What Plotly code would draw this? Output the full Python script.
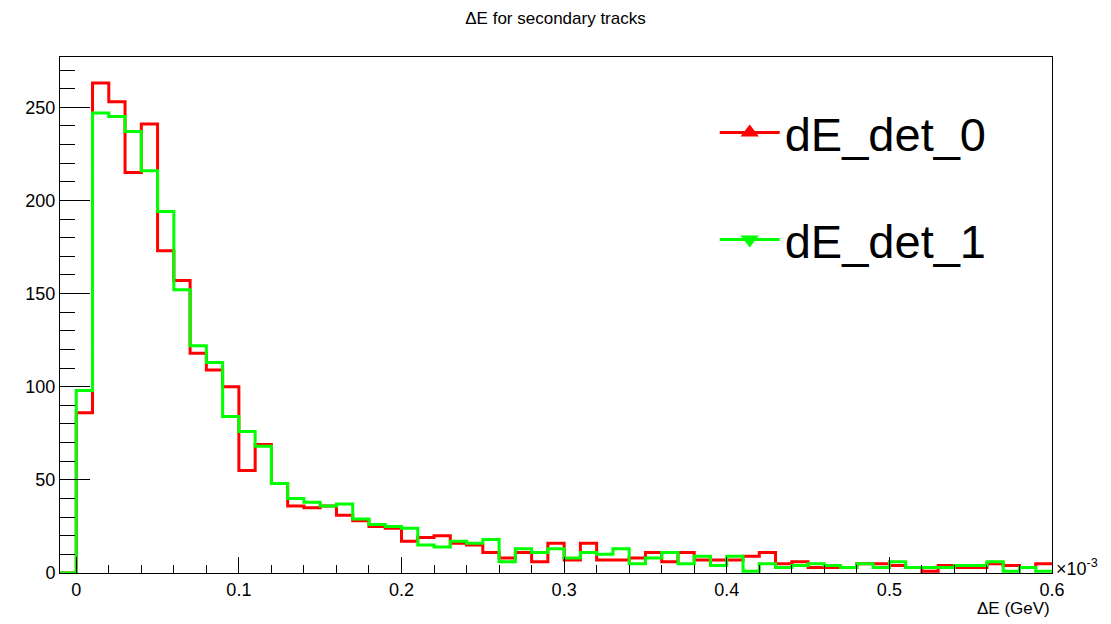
import numpy as np
import plotly.graph_objects as go

# Histogram binning (units of 1e-3 GeV on the displayed axis)
bin_low = -0.01
bin_width = 0.01
n_bins = 61

# bin contents, first bin [-0.01, 0)
det0 = [0, 86, 263, 253, 215, 241, 173, 157, 118, 109, 100, 55, 69, 48, 36, 35,
        36, 31, 28, 25, 24, 17, 19, 20, 16, 15, 11, 8, 11, 6, 16,
        7, 16, 7, 7, 8, 11, 6, 11, 7, 7, 7, 9, 11, 5, 6,
        3, 3, 3, 5, 5, 4, 3, 1, 4, 3, 3, 5, 4, 3, 5]
det1 = [0, 98, 247, 245, 237, 216, 194, 152, 122, 113, 84, 76, 68, 48, 40, 38,
        36, 37, 29, 26, 25, 24, 15, 14, 17, 16, 18, 6, 13, 11, 13,
        8, 11, 10, 13, 5, 8, 11, 5, 9, 4, 9, 1, 5, 3, 4,
        5, 4, 3, 5, 3, 6, 3, 3, 3, 4, 4, 6, 1, 3, 1]

series_names = ["dE_det_0", "dE_det_1"]
series_colors = ["#ff0000", "#00ff00"]
series_symbols = ["triangle-up", "triangle-down"]

x_tickvals = [0, 0.1, 0.2, 0.3, 0.4, 0.5, 0.6]
x_ticktext = ["0", "0.1", "0.2", "0.3", "0.4", "0.5", "0.6"]

edges = bin_low + bin_width * np.arange(n_bins + 1)

fig = go.Figure()
for vals, name, col in zip([det0, det1], series_names, series_colors):
    y = list(vals) + [vals[-1]]
    fig.add_trace(go.Scatter(x=edges, y=y, mode="lines", line_shape="hv",
                             line=dict(color=col, width=3), showlegend=False,
                             hoverinfo="skip"))

# legend entries
for i, (name, col, sym) in enumerate(zip(series_names, series_colors, series_symbols)):
    fig.add_trace(go.Scatter(x=[None], y=[None], mode="lines+markers", name=name,
                             line=dict(color=col, width=3),
                             marker=dict(color=col, symbol=sym, size=16),
                             legend="legend" if i == 0 else "legend2"))

font_family = "Liberation Sans, Arial, sans-serif"
leg_common = dict(font=dict(size=47, color="black", family=font_family),
                  bgcolor="rgba(0,0,0,0)", xanchor="left", yanchor="middle",
                  itemwidth=60, xref="paper", yref="paper")

fig.update_layout(
    width=1111, height=624,
    margin=dict(l=60, r=59, t=57, b=51),
    paper_bgcolor="white", plot_bgcolor="white",
    font=dict(family=font_family, color="black"),
    title=dict(text="ΔE for secondary tracks", x=0.5, xanchor="center",
               y=1 - 18 / 624, yanchor="middle", font=dict(size=17)),
    legend=dict(x=0.66, y=(573 - 133) / 516, **leg_common),
    legend2=dict(x=0.66, y=(573 - 240) / 516, **leg_common),
    xaxis=dict(range=[-0.01, 0.6], showgrid=False, zeroline=False,
               showline=True, linecolor="black", linewidth=1, mirror=True,
               ticks="inside", ticklen=16, tickwidth=1, tickcolor="black",
               tickmode="array", tickvals=x_tickvals, ticktext=x_ticktext,
               minor=dict(ticks="inside", ticklen=8, dtick=0.02, tick0=0,
                          tickcolor="black", showgrid=False),
               tickfont=dict(size=18)),
    yaxis=dict(range=[0, 277], showgrid=False, zeroline=False,
               showline=True, linecolor="black", linewidth=1, mirror=True,
               ticks="inside", ticklen=30, tickwidth=1, tickcolor="black",
               tick0=0, dtick=50,
               minor=dict(ticks="inside", ticklen=15, dtick=10, tick0=0,
                          tickcolor="black", showgrid=False),
               tickfont=dict(size=18)),
    annotations=[
        dict(text="ΔE (GeV)", xref="paper", yref="paper", x=1, y=-24 / 516,
             xanchor="right", yanchor="top", showarrow=False,
             font=dict(size=17)),
        dict(text="×10<sup>-3</sup>", xref="paper", yref="paper", x=1, y=0,
             xanchor="left", yanchor="middle", showarrow=False,
             xshift=2, yshift=6, font=dict(size=18)),
    ],
)

fig.write_html("out.html")
